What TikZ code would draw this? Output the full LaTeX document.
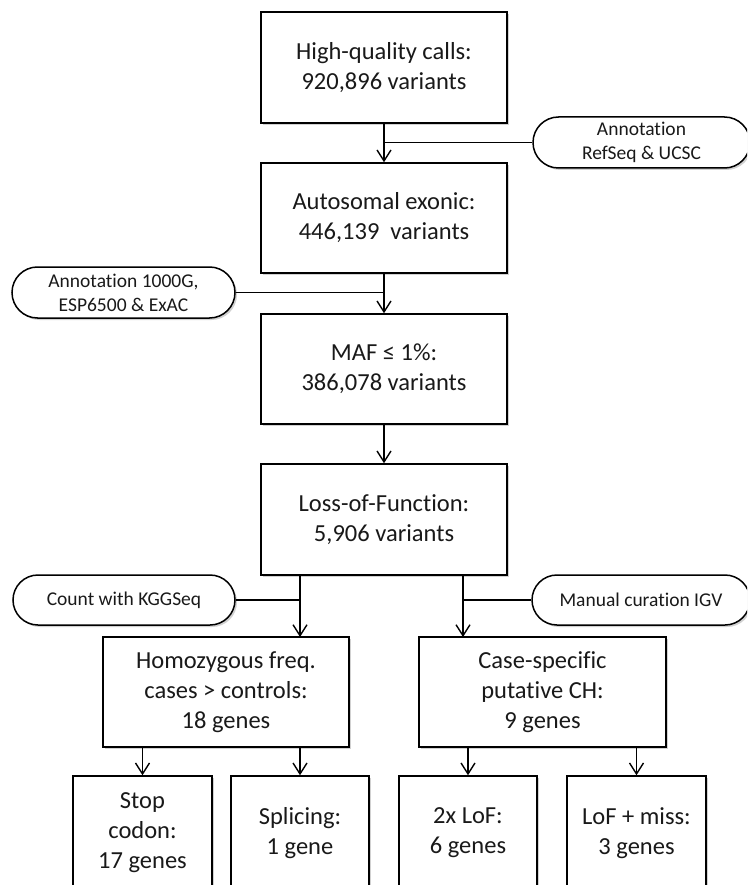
\documentclass[tikz,border=0pt]{standalone}
\usepackage{fontspec}
\setmainfont{Carlito}[Ligatures={NoCommon}]
\usetikzlibrary{arrows.meta,shadows,shapes.misc}
\tikzset{
  boxshadow/.style={drop shadow={shadow xshift=2pt,shadow yshift=-2pt,fill=black,opacity=0.18}},
  stepbox/.style={draw=black,line width=1.5pt,fill=white,boxshadow,inner sep=0pt,align=center,
    text=black!90,font=\fontsize{24.5}{30}\selectfont},
  ovalbox/.style={rounded rectangle,draw=black,line width=1.5pt,fill=white,boxshadow,inner sep=0pt,align=center,
    text=black!90,font=\fontsize{19.5}{24}\selectfont},
  arr/.style={line width=1.4pt,-{Straight Barb[length=11pt,width=14pt,line width=1.4pt]}},
  conn/.style={line width=1.4pt},
}
\begin{document}
\begin{tikzpicture}[x=1pt,y=-1pt]
\clip (0,0) rectangle (747,885);
\fill[white] (0,0) rectangle (747,885);
% main boxes
\node[stepbox,minimum width=246pt,minimum height=111pt] (b1) at (384,67.5) {High-quality calls:\\920,896 variants};
\node[stepbox,minimum width=246pt,minimum height=110pt] (b2) at (384,218) {Autosomal exonic:\\446,139~ variants};
\node[stepbox,minimum width=246pt,minimum height=110pt] (b3) at (384,369) {MAF ≤ 1\%:\\386,078 variants};
\node[stepbox,minimum width=246pt,minimum height=111pt] (b4) at (384,519.5) {Loss-of-Function:\\5,906 variants};
\node[stepbox,minimum width=246pt,minimum height=110pt] (h) at (226,692) {Homozygous freq.\\cases > controls:\\18 genes};
\node[stepbox,minimum width=247pt,minimum height=110pt] (c) at (542.5,692) {Case-specific\\putative CH:\\9 genes};
\node[stepbox,minimum width=139pt,minimum height=114pt] (s1) at (142.5,833) {Stop\\codon:\\17 genes};
\node[stepbox,minimum width=138pt,minimum height=114pt] (s2) at (300,833) {Splicing:\\1 gene};
\node[stepbox,minimum width=138pt,minimum height=114pt] (s3) at (468,833) {2x LoF:\\6 genes};
\node[stepbox,minimum width=139pt,minimum height=114pt] (s4) at (636.5,833) {LoF + miss:\\3 genes};
% ovals
\node[ovalbox,minimum width=217pt,minimum height=51pt] (o1) at (641.5,142.5) {Annotation\\RefSeq \& UCSC};
\node[ovalbox,minimum width=223pt,minimum height=51pt] (o2) at (123.5,292.5) {Annotation 1000G,\\ESP6500 \& ExAC};
\node[ovalbox,minimum width=222pt,minimum height=50pt] (o3) at (124,600) {Count with KGGSeq};
\node[ovalbox,minimum width=218pt,minimum height=50pt] (o4) at (641,600) {Manual curation IGV};
% connectors
\coordinate (hin) at (300,637);
\coordinate (cin) at (463,637);
\draw[arr] (b1.south) -- (b2.north);
\draw[conn] (o1.west) -- (o1.west -| b1.south);
\draw[arr] (b2.south) -- (b3.north);
\draw[conn] (o2.east) -- (o2.east -| b2.south);
\draw[arr] (b3.south) -- (b4.north);
\draw[arr] (b4.south -| hin) -- (hin);
\draw[conn] (o3.east) -- (o3.east -| hin);
\draw[arr] (b4.south -| cin) -- (cin);
\draw[conn] (o4.west) -- (o4.west -| cin);
\draw[arr] (h.south -| s1.north) -- (s1.north);
\draw[arr] (h.south -| s2.north) -- (s2.north);
\draw[arr] (c.south -| s3.north) -- (s3.north);
\draw[arr] (c.south -| s4.north) -- (s4.north);
\end{tikzpicture}
\end{document}
